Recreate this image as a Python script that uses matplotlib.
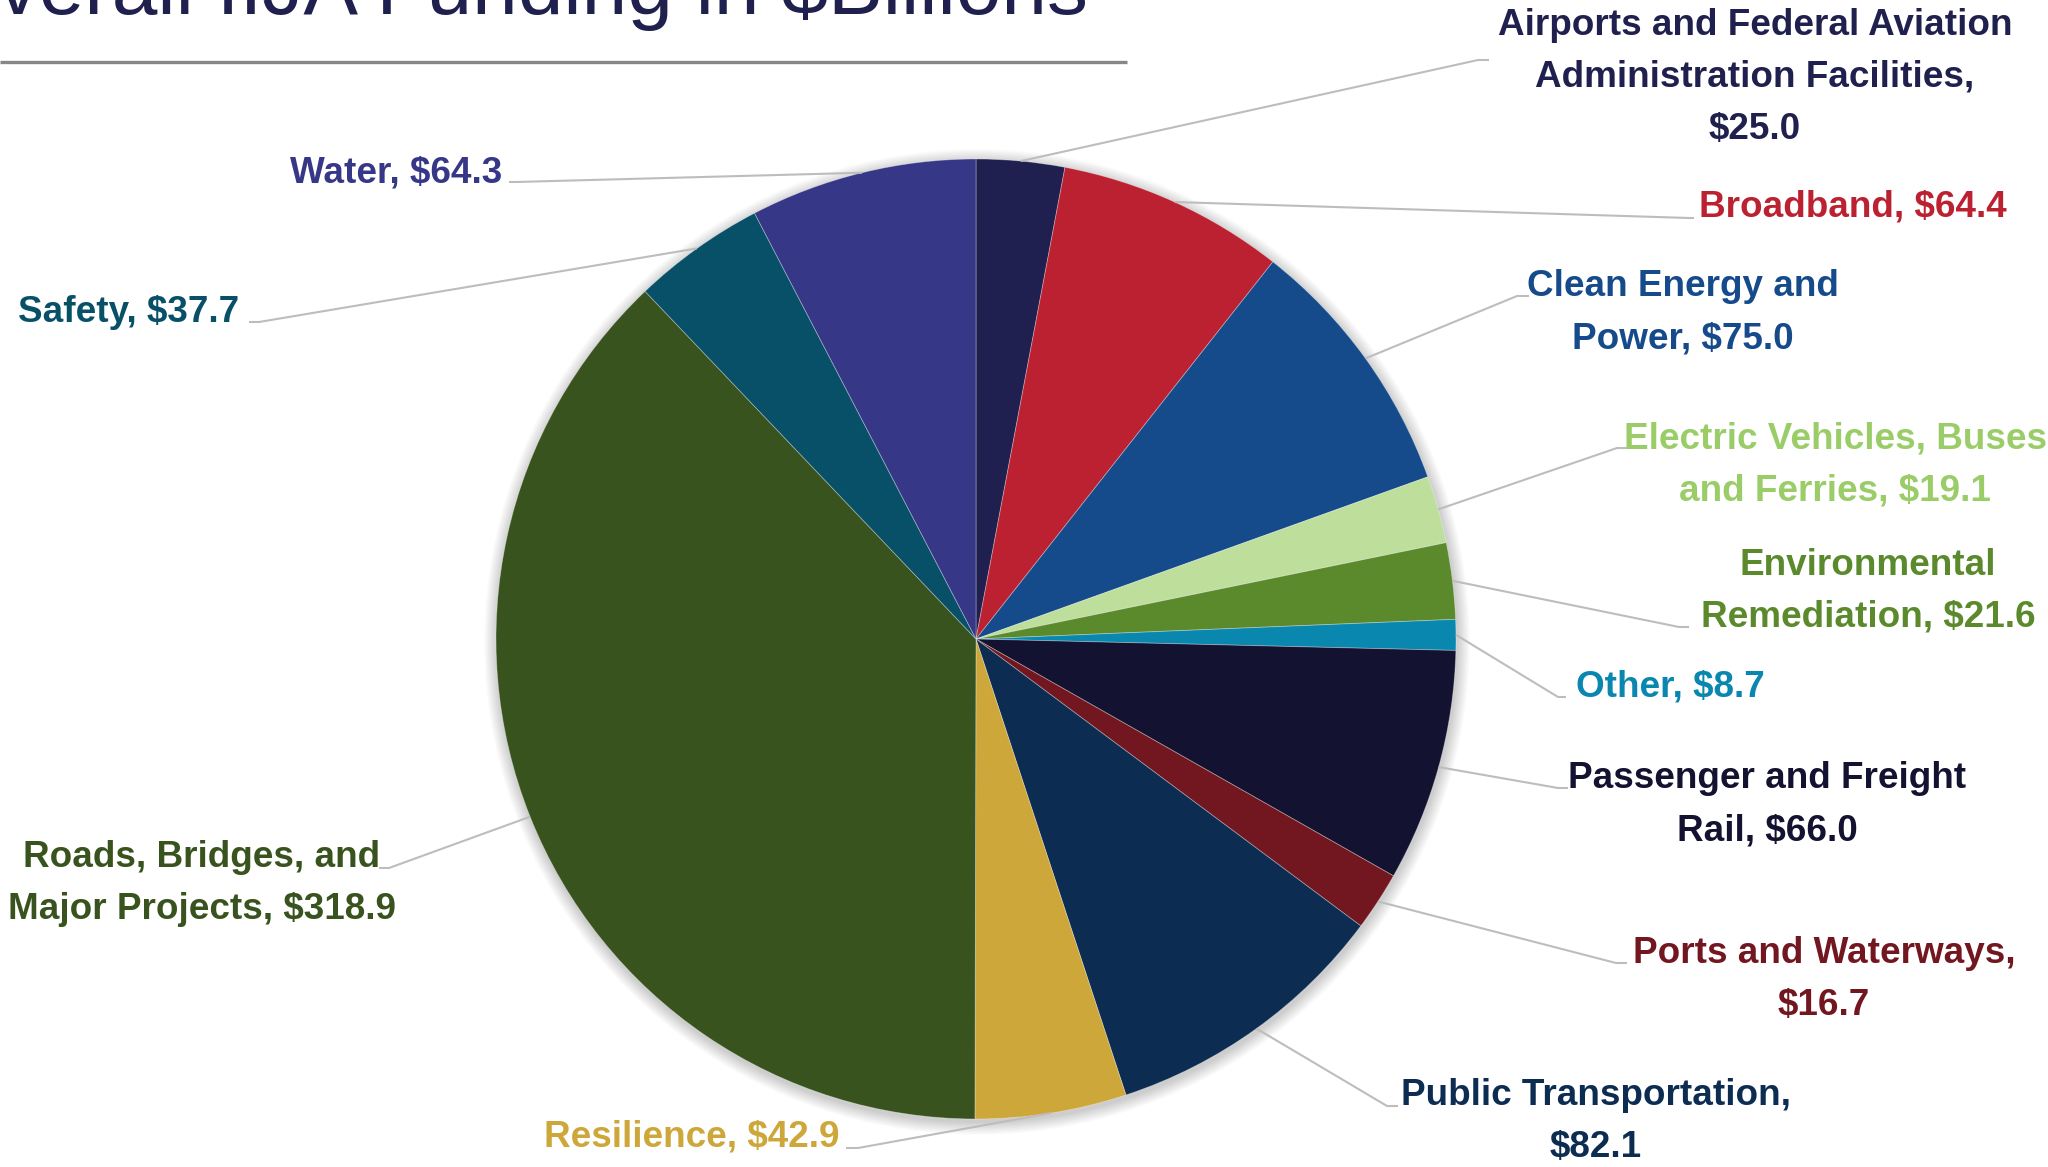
"""
Pie chart of overall IIJA funding in $ billions, with leader-line labels.
"""

import numpy as np
import matplotlib
from matplotlib import pyplot as plt
from matplotlib.patches import Circle

matplotlib.use('agg')

W, H = 2048, 1167

categories = [
    'Airports and Federal Aviation\nAdministration Facilities',
    'Broadband',
    'Clean Energy and\nPower',
    'Electric Vehicles, Buses\nand Ferries',
    'Environmental\nRemediation',
    'Other',
    'Passenger and Freight\nRail',
    'Ports and Waterways',
    'Public Transportation',
    'Resilience',
    'Roads, Bridges, and\nMajor Projects',
    'Safety',
    'Water',
]
values = [25.0, 64.4, 75.0, 19.1, 21.6, 8.7, 66.0, 16.7, 82.1, 42.9, 318.9, 37.7, 64.3]
# value goes on its own line for these labels
value_newline = [True, False, False, False, False, False, False, True, True,
                 False, False, False, False]

slice_colors = ['#1f1f50', '#bc2131', '#164b8b', '#bddf9b', '#5a8a2c', '#0a87af',
                '#131230', '#72161f', '#0c2c52', '#cda73a', '#38531e', '#075068',
                '#373788']
text_colors = ['#20204f', '#bc2131', '#164b8b', '#9acd68', '#5a8a2c', '#0a87af',
               '#131230', '#72161f', '#0c2c52', '#cda73a', '#38531e', '#075068',
               '#373788']

# label layout in pixel coordinates (y measured from the top)
# (text x, alignment, first baseline, elbow x, elbow y, end x)
label_layout = [
    (1755, 'center', 35, 1478, 60, 1489),
    (1699, 'left', 217, 1689, 218, 1694),
    (1683, 'center', 296, 1517, 296, 1529),
    (1835, 'center', 448, 1617, 448, 1628),
    (1868, 'center', 575, 1679, 627, 1689),
    (1576, 'left', 697, 1558, 697, 1566),
    (1767, 'center', 788, 1558, 788, 1568),
    (1824, 'center', 963, 1616, 963, 1627),
    (1596, 'center', 1105, 1387, 1106, 1398),
    (839, 'right', 1147, 858, 1148, 846),
    (202, 'center', 867, 389, 868, 379),
    (239, 'right', 322, 259, 322, 249),
    (502, 'right', 182, 516, 182, 509),
]
LINE_H = 52

CX, CY, R = 976, 639, 480

fig = plt.figure(figsize=(W / 100, H / 100), dpi=100)
ax = fig.add_axes([0, 0, 1, 1])


def py(y):
    return H - y


# soft shadow round the pie
for i in range(10):
    ax.add_patch(Circle((CX + 1, py(CY) - 3), R + 1 + i * 1.3, facecolor='black',
                        edgecolor='none', alpha=0.018, zorder=1))

wedges, _ = ax.pie(values, colors=slice_colors, startangle=90, counterclock=False,
                   radius=R, center=(CX, py(CY)), frame=True,
                   wedgeprops=dict(linewidth=0.6, edgecolor=(1, 1, 1, 0.35), zorder=2))
for w in wedges:
    w.set_zorder(2)

label_font = ['Liberation Sans', 'DejaVu Sans']

for w, cat, val, nl, tc, lay in zip(wedges, categories, values, value_newline,
                                    text_colors, label_layout):
    tx, ha, by, ex, ey, endx = lay
    mid = np.deg2rad((w.theta1 + w.theta2) / 2)
    sx = CX + R * np.cos(mid)
    sy = py(CY) + R * np.sin(mid)
    ax.plot([sx, ex, endx], [sy, py(ey), py(ey)], color='#bdbdbd', lw=1.5,
            solid_capstyle='butt', zorder=3)

    label = f'{cat},' + ('\n' if nl else ' ') + f'${val:.1f}'
    for k, line in enumerate(label.split('\n')):
        ax.text(tx, py(by + k * LINE_H), line, ha=ha, va='baseline',
                fontsize=26.6, fontweight='bold', color=tc, family=label_font,
                zorder=4)

# title, cut off at the top edge as in the slide
ax.text(1088, py(14), 'Overall IIJA Funding in $Billions', ha='right', va='baseline',
        fontsize=59, color='#20204f', family=label_font)
ax.plot([0, 1127], [py(62), py(62)], color='#878787', lw=2.4, solid_capstyle='butt')

ax.set_xlim(0, W)
ax.set_ylim(0, H)
ax.set_aspect('equal')
ax.axis('off')

fig.savefig('out.png', dpi=100)
